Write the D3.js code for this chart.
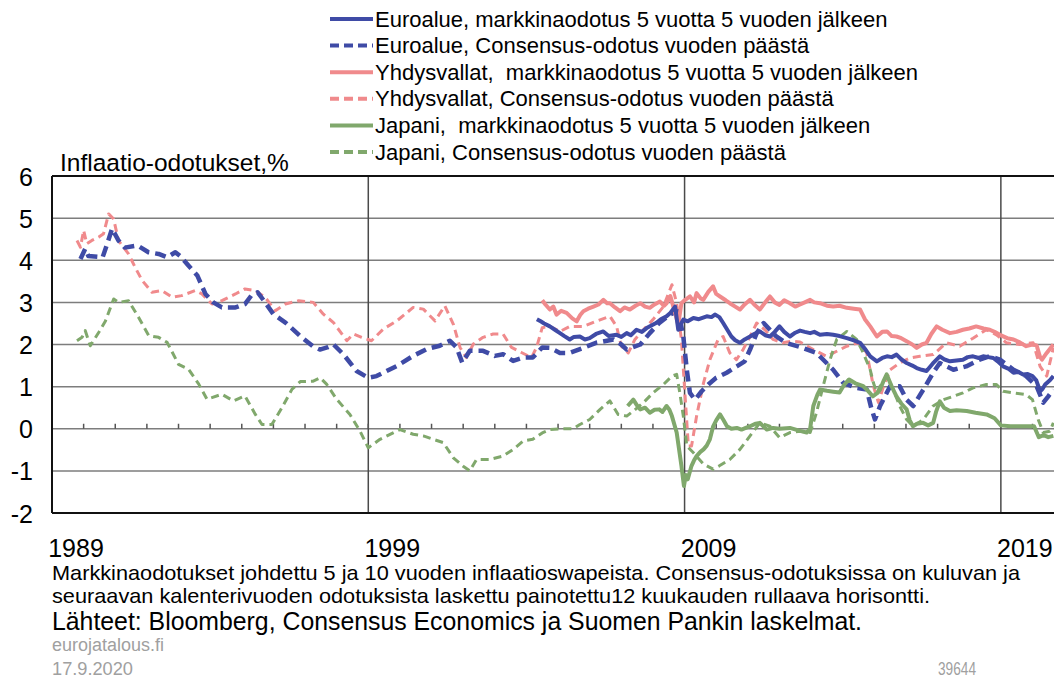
<!DOCTYPE html>
<html><head><meta charset="utf-8">
<script src="https://cdn.jsdelivr.net/npm/d3@7"></script>
<style>
body{margin:0;background:#fff;}
svg{display:block;font-family:"Liberation Sans",Arial,sans-serif;}
</style></head>
<body><svg id="c" width="1054" height="681"></svg>
<script>
// ---------- DATA ----------
const yTicks = [-2,-1,0,1,2,3,4,5,6];
const decadeYears = [1989,1999,2009,2019];
const xTickLabels = ["1989","1999","2009","2019"];
const seriesNames = [
  "Euroalue, markkinaodotus 5 vuotta 5 vuoden jälkeen",
  "Euroalue, Consensus-odotus vuoden päästä",
  "Yhdysvallat,  markkinaodotus 5 vuotta 5 vuoden jälkeen",
  "Yhdysvallat, Consensus-odotus vuoden päästä",
  "Japani,  markkinaodotus 5 vuotta 5 vuoden jälkeen",
  "Japani, Consensus-odotus vuoden päästä"
];
// [decimal year, %]
const euroMarket = [[2004.33,2.6],[2004.45,2.55],[2004.56,2.5],[2004.74,2.43],[2004.9,2.35],[2005.06,2.27],[2005.2,2.2],[2005.37,2.12],[2005.5,2.18],[2005.69,2.19],[2005.85,2.12],[2006.0,2.15],[2006.2,2.25],[2006.43,2.31],[2006.6,2.2],[2006.85,2.23],[2007.0,2.18],[2007.17,2.27],[2007.3,2.22],[2007.48,2.35],[2007.65,2.3],[2007.8,2.39],[2007.95,2.45],[2008.1,2.51],[2008.25,2.6],[2008.43,2.67],[2008.55,2.75],[2008.7,2.9],[2008.8,2.35],[2008.9,2.5],[2008.96,2.59],[2009.1,2.55],[2009.28,2.63],[2009.45,2.6],[2009.7,2.67],[2009.85,2.65],[2009.96,2.71],[2010.1,2.65],[2010.22,2.51],[2010.35,2.35],[2010.48,2.19],[2010.6,2.1],[2010.75,2.04],[2010.9,2.12],[2011.07,2.19],[2011.2,2.25],[2011.38,2.31],[2011.55,2.22],[2011.7,2.19],[2011.85,2.3],[2012.0,2.43],[2012.15,2.3],[2012.33,2.19],[2012.5,2.28],[2012.65,2.33],[2012.8,2.3],[2012.97,2.27],[2013.1,2.3],[2013.28,2.23],[2013.5,2.25],[2013.7,2.23],[2013.9,2.2],[2014.13,2.15],[2014.35,2.1],[2014.55,2.04],[2014.7,1.9],[2014.87,1.72],[2015.08,1.6],[2015.25,1.68],[2015.4,1.72],[2015.55,1.7],[2015.7,1.76],[2015.85,1.65],[2016.02,1.56],[2016.2,1.5],[2016.34,1.44],[2016.5,1.4],[2016.65,1.37],[2016.85,1.55],[2017.07,1.72],[2017.2,1.65],[2017.39,1.6],[2017.6,1.62],[2017.8,1.64],[2017.95,1.7],[2018.12,1.72],[2018.3,1.68],[2018.44,1.72],[2018.6,1.7],[2018.76,1.68],[2018.9,1.6],[2019.07,1.48],[2019.25,1.42],[2019.4,1.33],[2019.55,1.35],[2019.7,1.29],[2019.85,1.3],[2020.0,1.25],[2020.12,1.15],[2020.24,0.89],[2020.32,0.95],[2020.4,1.05],[2020.55,1.15],[2020.66,1.25]];
const euroConsensus = [[1989.9,4.03],[1990.05,4.27],[1990.15,4.1],[1990.6,4.07],[1990.75,4.4],[1990.9,4.75],[1991.1,4.47],[1991.3,4.3],[1991.7,4.35],[1992.05,4.19],[1992.37,4.15],[1992.64,4.07],[1992.9,4.19],[1993.05,4.1],[1993.32,3.87],[1993.6,3.63],[1993.85,3.2],[1994.1,3.0],[1994.37,2.88],[1994.8,2.88],[1995.1,2.96],[1995.3,3.16],[1995.5,3.24],[1995.7,3.04],[1996.0,2.72],[1996.38,2.52],[1996.85,2.2],[1997.26,1.95],[1997.47,1.88],[1997.7,1.93],[1997.9,2.0],[1998.21,1.77],[1998.63,1.37],[1999.0,1.21],[1999.26,1.25],[1999.9,1.49],[2000.42,1.73],[2000.84,1.89],[2001.26,1.97],[2001.58,2.09],[2001.79,1.93],[2001.97,1.57],[2002.21,1.85],[2002.63,1.85],[2003.0,1.73],[2003.26,1.77],[2003.58,1.61],[2003.9,1.69],[2004.2,1.69],[2004.5,1.93],[2004.74,1.92],[2005.06,1.8],[2005.37,1.8],[2005.8,1.92],[2006.2,2.04],[2006.75,2.12],[2007.0,2.0],[2007.17,1.88],[2007.6,2.0],[2007.9,2.27],[2008.2,2.51],[2008.54,2.71],[2008.8,2.79],[2008.96,2.19],[2009.07,1.4],[2009.17,0.85],[2009.33,0.69],[2009.54,0.89],[2009.75,1.05],[2010.0,1.21],[2010.33,1.33],[2010.65,1.48],[2010.9,1.6],[2011.07,1.88],[2011.28,2.27],[2011.5,2.51],[2011.9,2.19],[2012.2,2.04],[2012.65,1.94],[2013.17,1.8],[2013.7,1.4],[2014.02,1.09],[2014.44,0.97],[2014.76,0.93],[2014.9,0.5],[2015.02,0.22],[2015.18,0.54],[2015.5,1.01],[2015.8,1.01],[2016.02,0.69],[2016.23,0.54],[2016.55,0.93],[2016.86,1.33],[2017.07,1.56],[2017.5,1.4],[2017.9,1.48],[2018.33,1.64],[2018.65,1.72],[2018.97,1.64],[2019.4,1.4],[2019.8,1.25],[2020.13,1.01],[2020.34,0.62],[2020.5,0.77],[2020.66,0.93]];
const usMarket = [[2004.5,3.05],[2004.6,2.95],[2004.74,2.83],[2004.85,2.9],[2004.95,2.71],[2005.1,2.8],[2005.27,2.75],[2005.45,2.62],[2005.59,2.55],[2005.7,2.7],[2005.8,2.79],[2005.95,2.85],[2006.12,2.9],[2006.28,2.95],[2006.43,3.06],[2006.55,2.98],[2006.64,2.98],[2006.8,2.88],[2006.96,2.79],[2007.1,2.88],[2007.27,2.83],[2007.45,2.92],[2007.6,2.98],[2007.75,2.9],[2007.9,2.87],[2008.05,2.95],[2008.22,3.02],[2008.35,2.92],[2008.43,2.98],[2008.55,3.15],[2008.7,2.75],[2008.8,2.47],[2008.9,2.98],[2009.0,3.05],[2009.17,3.14],[2009.3,3.0],[2009.38,3.22],[2009.5,3.1],[2009.59,3.06],[2009.75,3.25],[2009.9,3.38],[2010.0,3.2],[2010.12,3.14],[2010.3,3.05],[2010.43,2.98],[2010.6,2.9],[2010.75,2.83],[2010.9,2.95],[2011.07,3.06],[2011.2,2.95],[2011.38,2.83],[2011.55,3.0],[2011.7,3.14],[2011.85,3.0],[2012.0,2.94],[2012.15,3.05],[2012.33,2.98],[2012.5,2.9],[2012.65,2.95],[2012.8,3.0],[2012.97,3.06],[2013.1,3.0],[2013.28,2.98],[2013.5,2.92],[2013.7,2.9],[2013.9,2.92],[2014.13,2.87],[2014.35,2.85],[2014.55,2.83],[2014.7,2.6],[2014.87,2.43],[2015.08,2.19],[2015.25,2.3],[2015.4,2.31],[2015.55,2.2],[2015.7,2.19],[2015.85,2.15],[2016.02,2.08],[2016.2,2.0],[2016.34,1.92],[2016.5,2.0],[2016.65,2.04],[2016.8,2.25],[2016.97,2.43],[2017.15,2.35],[2017.39,2.27],[2017.6,2.3],[2017.8,2.35],[2018.0,2.38],[2018.22,2.43],[2018.45,2.38],[2018.65,2.35],[2018.8,2.3],[2018.97,2.23],[2019.2,2.15],[2019.4,2.12],[2019.6,2.05],[2019.8,1.96],[2020.0,2.0],[2020.13,1.98],[2020.24,1.7],[2020.3,1.64],[2020.45,1.8],[2020.66,2.0]];
const usConsensus = [[1989.79,4.47],[1989.9,4.31],[1990.0,4.71],[1990.1,4.39],[1990.26,4.47],[1990.48,4.55],[1990.63,4.63],[1990.79,5.1],[1990.95,4.98],[1991.1,4.47],[1991.42,4.15],[1991.63,3.83],[1991.85,3.52],[1992.16,3.24],[1992.48,3.28],[1992.8,3.12],[1993.1,3.16],[1993.53,3.28],[1993.74,3.2],[1994.06,2.96],[1994.37,3.04],[1994.8,3.2],[1995.1,3.32],[1995.43,3.28],[1995.74,3.12],[1996.06,2.8],[1996.38,2.96],[1996.8,3.04],[1997.26,3.0],[1997.58,2.72],[1997.9,2.52],[1998.32,2.09],[1998.53,2.25],[1998.79,2.17],[1999.1,2.09],[1999.48,2.37],[1999.9,2.56],[2000.42,2.88],[2000.74,2.84],[2001.11,2.56],[2001.42,2.92],[2001.69,2.48],[2001.9,1.93],[2002.1,1.69],[2002.32,2.01],[2002.63,2.17],[2002.95,2.25],[2003.26,2.25],[2003.53,1.93],[2003.84,1.81],[2004.16,1.69],[2004.32,1.93],[2004.5,2.4],[2004.74,2.43],[2005.06,2.31],[2005.37,2.43],[2005.8,2.43],[2006.2,2.55],[2006.64,2.67],[2006.85,2.43],[2007.0,1.96],[2007.22,1.8],[2007.43,2.12],[2007.7,2.35],[2008.0,2.59],[2008.33,2.9],[2008.6,3.42],[2008.75,2.98],[2008.9,2.12],[2009.01,0.85],[2009.12,-0.41],[2009.22,-0.41],[2009.38,0.3],[2009.6,1.09],[2009.8,1.64],[2010.06,2.12],[2010.22,2.19],[2010.43,1.8],[2010.64,1.64],[2010.85,1.88],[2011.07,2.19],[2011.28,2.51],[2011.54,2.35],[2011.8,2.12],[2012.1,2.04],[2012.43,2.08],[2012.65,2.06],[2013.07,1.88],[2013.49,1.72],[2013.81,1.84],[2014.13,1.96],[2014.5,2.04],[2014.76,1.8],[2014.97,1.01],[2015.13,0.62],[2015.29,1.01],[2015.5,1.4],[2015.8,1.56],[2016.12,1.68],[2016.44,1.72],[2016.86,1.76],[2017.28,2.04],[2017.7,1.96],[2018.12,2.15],[2018.54,2.35],[2018.86,2.23],[2019.18,2.04],[2019.6,2.0],[2020.02,2.04],[2020.24,1.48],[2020.45,1.25],[2020.66,1.92]];
const japanMarket = [[2007.2,0.54],[2007.38,0.69],[2007.5,0.55],[2007.6,0.46],[2007.75,0.5],[2007.9,0.38],[2008.05,0.45],[2008.2,0.46],[2008.3,0.4],[2008.43,0.54],[2008.52,0.45],[2008.6,0.3],[2008.75,-0.09],[2008.9,-0.88],[2008.98,-1.36],[2009.04,-1.1],[2009.1,-1.2],[2009.22,-0.88],[2009.3,-0.75],[2009.38,-0.65],[2009.5,-0.55],[2009.6,-0.49],[2009.7,-0.4],[2009.8,-0.25],[2009.9,0.05],[2010.0,0.2],[2010.12,0.34],[2010.22,0.22],[2010.34,0.06],[2010.48,0.0],[2010.65,0.02],[2010.8,-0.02],[2011.07,0.06],[2011.25,0.12],[2011.38,0.14],[2011.6,-0.02],[2011.8,0.02],[2012.0,0.0],[2012.33,0.02],[2012.65,-0.05],[2012.86,-0.09],[2012.97,0.0],[2013.07,0.54],[2013.2,0.81],[2013.28,0.93],[2013.5,0.9],[2013.7,0.88],[2013.9,0.86],[2014.05,1.05],[2014.2,1.17],[2014.4,1.08],[2014.65,1.01],[2014.8,0.9],[2014.95,0.77],[2015.1,0.85],[2015.18,0.93],[2015.3,1.15],[2015.39,1.29],[2015.55,1.0],[2015.7,0.77],[2015.85,0.6],[2016.02,0.46],[2016.12,0.2],[2016.22,0.06],[2016.35,0.12],[2016.54,0.14],[2016.7,0.08],[2016.86,0.14],[2016.95,0.4],[2017.07,0.65],[2017.2,0.5],[2017.39,0.42],[2017.6,0.44],[2017.92,0.42],[2018.2,0.38],[2018.55,0.34],[2018.8,0.25],[2019.0,0.08],[2019.3,0.06],[2019.6,0.06],[2020.05,0.06],[2020.2,-0.2],[2020.35,-0.15],[2020.5,-0.2],[2020.66,-0.17]];
const japanConsensus = [[1989.79,2.09],[1989.95,2.17],[1990.05,2.33],[1990.21,1.97],[1990.48,2.29],[1990.69,2.56],[1990.95,3.08],[1991.1,3.0],[1991.42,3.04],[1991.74,2.64],[1992.06,2.21],[1992.37,2.17],[1992.64,2.05],[1993.0,1.53],[1993.32,1.41],[1993.64,1.06],[1993.9,0.7],[1994.37,0.82],[1994.74,0.66],[1995.1,0.78],[1995.43,0.34],[1995.64,0.1],[1995.95,0.1],[1996.27,0.5],[1996.59,0.94],[1996.85,1.12],[1997.26,1.13],[1997.48,1.21],[1997.68,1.06],[1998.0,0.7],[1998.42,0.34],[1998.74,-0.06],[1999.0,-0.45],[1999.37,-0.25],[2000.0,-0.02],[2000.42,-0.13],[2000.74,-0.17],[2001.05,-0.25],[2001.37,-0.33],[2001.69,-0.69],[2002.0,-0.89],[2002.21,-1.0],[2002.42,-0.73],[2002.84,-0.73],[2003.26,-0.65],[2003.58,-0.49],[2003.9,-0.29],[2004.2,-0.25],[2004.5,-0.1],[2004.74,-0.02],[2005.16,0.0],[2005.48,0.0],[2005.69,0.1],[2006.0,0.22],[2006.33,0.46],[2006.64,0.66],[2006.9,0.34],[2007.17,0.3],[2007.38,0.42],[2007.7,0.62],[2008.0,0.85],[2008.33,1.05],[2008.6,1.25],[2008.75,1.29],[2008.85,0.85],[2008.96,0.3],[2009.07,-0.41],[2009.28,-0.57],[2009.6,-0.84],[2009.9,-0.96],[2010.1,-0.88],[2010.43,-0.73],[2010.75,-0.49],[2011.07,-0.17],[2011.38,0.14],[2011.7,0.06],[2012.0,-0.21],[2012.33,-0.09],[2012.65,-0.06],[2012.97,-0.09],[2013.17,0.38],[2013.38,1.01],[2013.6,1.64],[2013.81,2.12],[2014.13,2.31],[2014.44,2.12],[2014.65,1.8],[2014.87,1.4],[2014.97,1.09],[2015.08,0.85],[2015.18,1.01],[2015.4,1.25],[2015.6,0.93],[2015.8,0.54],[2016.02,0.22],[2016.23,0.06],[2016.55,0.22],[2016.86,0.54],[2017.18,0.69],[2017.5,0.77],[2017.8,0.85],[2018.12,0.97],[2018.54,1.05],[2018.86,1.05],[2019.07,0.89],[2019.4,0.85],[2019.8,0.81],[2020.0,0.69],[2020.18,0.22],[2020.34,-0.09],[2020.55,-0.06],[2020.66,0.14]];
const footerNote = [
  "Markkinaodotukset johdettu 5 ja 10 vuoden inflaatioswapeista. Consensus-odotuksissa on kuluvan ja",
  "seuraavan kalenterivuoden odotuksista laskettu painotettu12 kuukauden rullaava horisontti."
];
const sourceText = "Lähteet: Bloomberg, Consensus Economics ja Suomen Pankin laskelmat.";

// ---------- STYLE ----------
const BLUE = "#3f4ba6", PINK = "#f08a8c", GREEN = "#80a86c";
const styles = [
  {data: euroMarket, color: BLUE, w: 4, dash: null},
  {data: euroConsensus, color: BLUE, w: 4.5, dash: "11,6"},
  {data: usMarket, color: PINK, w: 4, dash: null},
  {data: usConsensus, color: PINK, w: 3, dash: "8,5"},
  {data: japanMarket, color: GREEN, w: 4, dash: null},
  {data: japanConsensus, color: GREEN, w: 3, dash: "8,5"}
];

const svg = d3.select("#c");
const L = 52, R = 1054, T = 176, B = 513;
const x = d3.scaleLinear().domain([1989, 2020.68]).range([L, R]);
const y = d3.scaleLinear().domain([-2, 6]).range([B, T]);

// horizontal gridlines
svg.append("g").selectAll("line").data(yTicks.filter(v => v > -2 && v < 6)).join("line")
  .attr("x1", L).attr("x2", R).attr("y1", d => y(d)).attr("y2", d => y(d))
  .attr("stroke", "#7d7d7d").attr("stroke-width", 1.5);
// vertical decade gridlines
svg.append("g").selectAll("line").data(decadeYears.slice(1)).join("line")
  .attr("x1", d => x(d)).attr("x2", d => x(d)).attr("y1", T).attr("y2", B)
  .attr("stroke", "#4a4a4a").attr("stroke-width", 1.5);
// yearly ticks on zero line
svg.append("g").selectAll("line").data(d3.range(1990, 2021)).join("line")
  .attr("x1", d => x(d)).attr("x2", d => x(d)).attr("y1", y(0)).attr("y2", y(0) - 5)
  .attr("stroke", "#555").attr("stroke-width", 1.5);

// series
const line = d3.line().x(d => x(d[0])).y(d => y(d[1]));
const drawOrder = [3, 5, 1, 2, 0, 4];
drawOrder.forEach(i => {
  const s = styles[i];
  svg.append("path").datum(s.data).attr("d", line)
    .attr("fill", "none").attr("stroke", s.color).attr("stroke-width", s.w)
    .attr("stroke-linejoin", "round")
    .attr("stroke-dasharray", s.dash);
});

// frame
svg.append("line").attr("x1", L).attr("x2", R).attr("y1", T).attr("y2", T).attr("stroke", "#111").attr("stroke-width", 2);
svg.append("line").attr("x1", L).attr("x2", R).attr("y1", B).attr("y2", B).attr("stroke", "#111").attr("stroke-width", 2);
svg.append("line").attr("x1", L).attr("x2", L).attr("y1", T).attr("y2", B).attr("stroke", "#111").attr("stroke-width", 2);

// y labels (hyphen-minus as in the original)
const yAxis = d3.axisLeft(y).tickValues(yTicks).tickSize(0).tickPadding(0).tickFormat(d => String(d));
const gy = svg.append("g").attr("transform", `translate(33,0)`).call(yAxis);
gy.select(".domain").remove();
gy.selectAll("text").attr("font-size", 25).attr("fill", "#000").attr("font-family", "Liberation Sans, Arial, sans-serif").attr("dy", "0.36em");

// x labels
svg.append("g").selectAll("text").data(decadeYears).join("text")
  .attr("x", d => x(d) + 24).attr("y", 557).attr("text-anchor", "middle")
  .attr("font-size", 25).text((d, i) => xTickLabels[i]);

// title
svg.append("text").attr("x", 60).attr("y", 171).attr("font-size", 24.5).text("Inflaatio-odotukset,%");

// legend
const lg = svg.append("g");
seriesNames.forEach((name, i) => {
  const s = styles[i];
  const cy = 19 + i * 26.6;
  lg.append("line").attr("x1", 330).attr("x2", 373).attr("y1", cy).attr("y2", cy)
    .attr("stroke", s.color).attr("stroke-width", 4)
    .attr("stroke-dasharray", s.dash ? "9,5" : null);
  lg.append("text").attr("x", 375).attr("y", cy + 7.5).attr("font-size", 22)
    .attr("xml:space", "preserve").style("white-space", "pre").text(name);
});

// footer
const ff = "'Liberation Sans Narrow','Arial Narrow','Liberation Sans',Arial,sans-serif";
svg.append("text").attr("x", 52).attr("y", 580).attr("font-size", 21).attr("font-family", ff)
  .attr("textLength", 968).attr("lengthAdjust", "spacingAndGlyphs").text(footerNote[0]);
svg.append("text").attr("x", 52).attr("y", 603).attr("font-size", 21).attr("font-family", ff)
  .attr("textLength", 878).attr("lengthAdjust", "spacingAndGlyphs").text(footerNote[1]);
svg.append("text").attr("x", 52).attr("y", 630).attr("font-size", 26).attr("font-family", ff)
  .attr("textLength", 810).attr("lengthAdjust", "spacingAndGlyphs").text(sourceText);
svg.append("text").attr("x", 52).attr("y", 651).attr("font-size", 18).attr("font-family", ff)
  .attr("fill", "#a0a0a0").attr("textLength", 112).attr("lengthAdjust", "spacingAndGlyphs").text("eurojatalous.fi");
svg.append("text").attr("x", 52).attr("y", 675).attr("font-size", 18).attr("font-family", ff)
  .attr("fill", "#a0a0a0").attr("textLength", 81).attr("lengthAdjust", "spacingAndGlyphs").text("17.9.2020");
svg.append("text").attr("x", 938).attr("y", 675).attr("font-size", 18).attr("font-family", ff)
  .attr("fill", "#a0a0a0").attr("textLength", 38).attr("lengthAdjust", "spacingAndGlyphs").text("39644");
</script></body></html>
